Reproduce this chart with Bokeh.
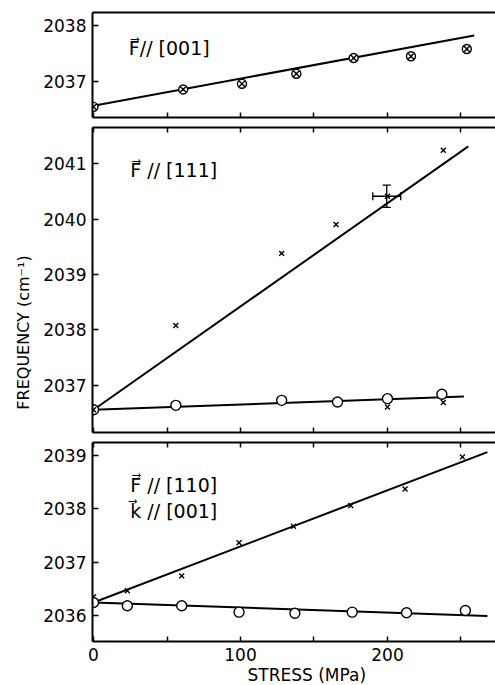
from math import pi
from bokeh.plotting import figure
from bokeh.models import (Range1d, FixedTicker, LinearAxis, Label, Whisker,
                          TeeHead, ColumnDataSource, Title)
from bokeh.core.properties import value
from bokeh.layouts import column, row
from bokeh.embed import file_html
from bokeh.resources import INLINE

FONT = "DejaVu Sans"

# ---------------- data ----------------
x_ticks = [0, 50, 100, 150, 200, 250]
x_tick_labels = {0: "0", 50: "", 100: "100", 150: "", 200: "200", 250: ""}

# top panel  F // [001]
top_x = [0, 61, 101, 138, 177, 216, 254]
top_y = [2036.55, 2036.86, 2036.96, 2037.14, 2037.42, 2037.45, 2037.58]
top_fit_x = [0, 259]
top_fit_y = [2036.57, 2037.82]
top_yticks = [2037, 2038]

# middle panel  F // [111]
mid_cross_x = [0, 56, 128, 165, 200, 238, 200, 238]
mid_cross_y = [2036.56, 2038.08, 2039.38, 2039.90, 2040.41, 2041.24, 2036.61, 2036.69]
mid_circ_x = [0, 56, 128, 166, 200, 237]
mid_circ_y = [2036.56, 2036.64, 2036.73, 2036.70, 2036.76, 2036.84]
mid_fit1_x = [0, 255]
mid_fit1_y = [2036.56, 2041.31]
mid_fit2_x = [0, 252]
mid_fit2_y = [2036.56, 2036.80]
mid_yticks = [2037, 2038, 2039, 2040, 2041]
err_x = [199.5]
err_y = [2040.41]
err_dx = [9.5]
err_dy = [0.2]

# bottom panel  F // [110], k // [001]
bot_cross_x = [0, 23, 60, 99, 136, 175, 212, 251]
bot_cross_y = [2036.35, 2036.46, 2036.74, 2037.36, 2037.67, 2038.06, 2038.37, 2038.97]
bot_circ_x = [0, 23, 60, 99, 137, 176, 213, 253]
bot_circ_y = [2036.24, 2036.18, 2036.18, 2036.06, 2036.04, 2036.06, 2036.05, 2036.09]
bot_fit1_x = [0, 268]
bot_fit1_y = [2036.24, 2039.06]
bot_fit2_x = [0, 268]
bot_fit2_y = [2036.24, 2035.99]
bot_yticks = [2036, 2037, 2038, 2039]

y_title = "FREQUENCY (cm\u207b\u00b9)"
x_title = "STRESS (MPa)"

XR = (-0.7, 273.5)
MAIN_W = 455


def make_fig(h, bt, bb, yr, yticks, xlabels, top_ticks):
    p = figure(width=MAIN_W, height=h, output_backend="svg", toolbar_location=None,
               x_range=Range1d(*XR), y_range=Range1d(*yr),
               min_border_left=52, min_border_right=0,
               min_border_top=bt, min_border_bottom=bb,
               x_axis_location=None, y_axis_location=None)
    p.grid.visible = False
    p.outline_line_color = None
    p.background_fill_color = "white"
    p.border_fill_color = "white"

    xb = LinearAxis(ticker=FixedTicker(ticks=x_ticks), axis_line_width=2,
                    major_tick_in=5, major_tick_out=0, major_tick_line_width=1.5,
                    minor_tick_line_color=None)
    if xlabels:
        xb.major_label_overrides = x_tick_labels
        xb.major_label_text_font = FONT
        xb.major_label_text_font_size = "17px"
        xb.major_label_text_color = "black"
        xb.major_label_standoff = 6
    else:
        xb.major_label_text_color = None
        xb.major_label_text_font_size = "1px"
        xb.major_label_standoff = 0
    p.add_layout(xb, "below")

    xa = LinearAxis(ticker=FixedTicker(ticks=x_ticks), axis_line_width=2,
                    major_tick_in=5 if top_ticks else 0, major_tick_out=0,
                    major_tick_line_width=1.5, minor_tick_line_color=None,
                    major_label_text_color=None,
                    major_label_text_font_size="1px", major_label_standoff=0)
    p.add_layout(xa, "above")

    ya = LinearAxis(ticker=FixedTicker(ticks=yticks), axis_line_width=2,
                    major_tick_in=6, major_tick_out=0, major_tick_line_width=1.5,
                    minor_tick_line_color=None, major_label_text_font=FONT,
                    major_label_text_color="black",
                    major_label_text_font_size="17px", major_label_standoff=6)
    p.add_layout(ya, "left")
    return p


def panel_label(p, x, y, text):
    p.add_layout(Label(x=x, y=y, text=text, text_font=FONT, text_font_size="19px",
                       text_align="left", text_baseline="middle", text_color="black"))


# ---------------- top ----------------
p1 = make_fig(122, 12, 5, (2036.36, 2038.23), top_yticks, False, False)
p1.line(top_fit_x, top_fit_y, line_width=2, color="black")
p1.scatter(top_x, top_y, marker="circle_x", size=9, line_width=1.4,
           line_color="black", fill_color="white")
panel_label(p1, 24, 2037.59, "F\u20d7// [001]")

# ---------------- middle ----------------
p2 = make_fig(315, 5, 5, (2036.15, 2041.65), mid_yticks, False, True)
p2.line(mid_fit1_x, mid_fit1_y, line_width=2, color="black")
p2.line(mid_fit2_x, mid_fit2_y, line_width=2, color="black")
p2.scatter(mid_circ_x, mid_circ_y, marker="circle", size=10, line_width=1.4,
           line_color="black", fill_color="white")
p2.scatter(mid_cross_x, mid_cross_y, marker="x", size=7, line_width=1.4,
           line_color="black")
esrc = ColumnDataSource(dict(
    x=err_x, y=err_y,
    xl=[a - d for a, d in zip(err_x, err_dx)], xu=[a + d for a, d in zip(err_x, err_dx)],
    yl=[a - d for a, d in zip(err_y, err_dy)], yu=[a + d for a, d in zip(err_y, err_dy)]))
p2.add_layout(Whisker(source=esrc, base="x", lower="yl", upper="yu", dimension="height",
                      line_width=1.3, line_color="black",
                      upper_head=TeeHead(size=8, line_width=1.3),
                      lower_head=TeeHead(size=8, line_width=1.3)))
p2.add_layout(Whisker(source=esrc, base="y", lower="xl", upper="xu", dimension="width",
                      line_width=1.3, line_color="black",
                      upper_head=TeeHead(size=8, line_width=1.3),
                      lower_head=TeeHead(size=8, line_width=1.3)))
panel_label(p2, 25, 2040.88, "F\u20d7 // [111]")

# ---------------- bottom ----------------
p3 = make_fig(248, 5, 40, (2035.51, 2039.24), bot_yticks, True, True)
p3.line(bot_fit1_x, bot_fit1_y, line_width=2, color="black")
p3.line(bot_fit2_x, bot_fit2_y, line_width=2, color="black")
p3.scatter(bot_cross_x, bot_cross_y, marker="x", size=7, line_width=1.4,
           line_color="black")
p3.scatter(bot_circ_x, bot_circ_y, marker="circle", size=10, line_width=1.4,
           line_color="black", fill_color="white")
panel_label(p3, 25, 2038.45, "F\u20d7 // [110]")
panel_label(p3, 25, 2037.96, "k\u20d7 // [001]")
p3.add_layout(Title(text=x_title, align="left", offset=155, standoff=0,
                    vertical_align="middle", text_font=FONT, text_font_size="17px",
                    text_font_style="normal", text_color="black"), "below")

# y-axis title column (left of all panels)
ycol = figure(width=40, height=685, output_backend="svg", toolbar_location=None,
              x_range=Range1d(0, 40), y_range=Range1d(0, 685), min_border=0,
              x_axis_location=None, y_axis_location=None)
ycol.grid.visible = False
ycol.outline_line_color = None
ycol.text(x=[23], y=[353], text=[y_title], angle=pi / 2, text_font=value(FONT),
          text_font_size="16px", text_align="center", text_baseline="middle",
          text_color="black")

layout = row(ycol, column(p1, p2, p3, spacing=0), spacing=0)
open("out.html", "w").write(file_html(layout, INLINE))
